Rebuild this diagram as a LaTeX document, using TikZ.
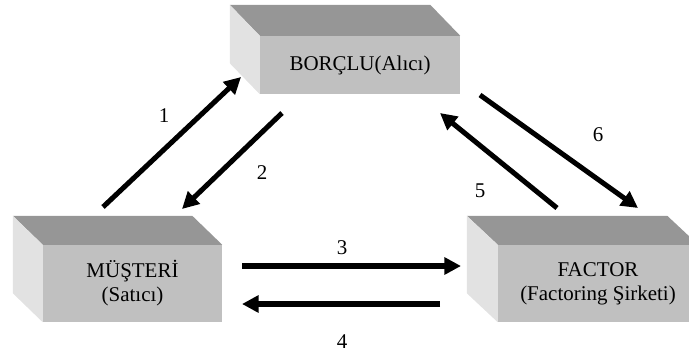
\documentclass[tikz,border=0pt]{standalone}
\usepackage{fontspec}
\setmainfont{Liberation Serif}
\usetikzlibrary{positioning}
\usetikzlibrary{calc}
\usetikzlibrary{arrows.meta}

\definecolor{frontgray}{RGB}{192,192,192}
\definecolor{topgray}{RGB}{150,150,150}
\definecolor{sidegray}{RGB}{226,226,226}

\tikzset{
  front/.style={fill=frontgray, inner sep=0pt, align=center,
    font=\fontsize{17.9pt}{20.5pt}\selectfont},
  flow/.style={line width=4.3pt, -{Triangle[length=0.5cm, width=0.5cm]}},
  lbl/.style={font=\fontsize{17.9pt}{20.5pt}\selectfont, inner sep=0pt}
}

% top and left faces of a box behind its front node
\newcommand{\boxfaces}[3]{%
  \fill[topgray] (#1.north west) -- ++(#2,#3) -- ($(#1.north east)+(#2,#3)$) -- (#1.north east) -- cycle;
  \fill[sidegray] (#1.north west) -- ++(#2,#3) -- ($(#1.south west)+(#2,#3)$) -- (#1.south west) -- cycle;
}

\begin{document}
\begin{tikzpicture}[x=0.03cm, y=-0.03cm]
\useasboundingbox (0,0) rectangle (689,356);
\clip (0,0) rectangle (689,356);

%%%%%%%%%% Boxes %%%%%%%%
{
\node[front, minimum width=200*0.03cm, minimum height=58*0.03cm] (borclu) at (360,65) {BORÇLU(Alıcı)};
\boxfaces{borclu}{-30}{-31}

\node[front, minimum width=179*0.03cm, minimum height=77*0.03cm] (musteri) at (132.5,283.5) {MÜŞTERİ\\(Satıcı)};
\boxfaces{musteri}{-30}{-29}

\node[front, minimum width=200*0.03cm, minimum height=77*0.03cm] (factor) at (598,283.5) {FACTOR\\(Factoring Şirketi)};
\boxfaces{factor}{-31}{-29}
}

%%%%%%%%%% Arrow ends %%%%%%%%
{
\coordinate (a1) at (103,207); \coordinate (b1) at (241,77);
\coordinate (a2) at (282,113); \coordinate (b2) at (182,209);
\coordinate (a3) at (242,266); \coordinate (b3) at (461,266);
\coordinate (a4) at (440,304); \coordinate (b4) at (242,304);
\coordinate (a5) at (557,208); \coordinate (b5) at (440,113);
\coordinate (a6) at (480,95);  \coordinate (b6) at (638,208);
}

%%%%%%%%%% Arrows %%%%%%%%
{
\draw[flow] (a1) -- (b1);
\draw[flow] (a2) -- (b2);
\draw[flow] (a3) -- (b3);
\draw[flow] (a4) -- (b4);
\draw[flow] (a5) -- (b5);
\draw[flow] (a6) -- (b6);
}

%%%%%%%%%% Labels %%%%%%%%
{
\node[lbl] (n1) at (164,116) {1};
\node[lbl] (n2) at (262,173) {2};
\node[lbl] (n3) at (342,248) {3};
\node[lbl] (n4) at (342,342) {4};
\node[lbl] (n5) at (480,191) {5};
\node[lbl] (n6) at (598,135) {6};
}

\end{tikzpicture}
\end{document}
